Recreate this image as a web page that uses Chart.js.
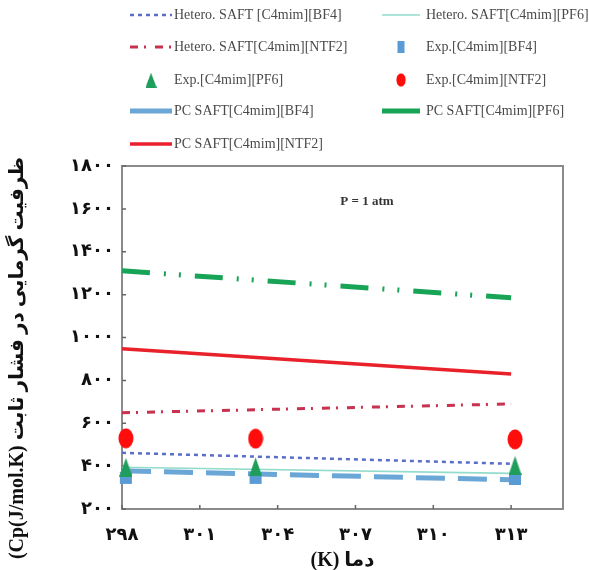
<!DOCTYPE html>
<html>
<head>
<meta charset="utf-8">
<script src="https://cdn.jsdelivr.net/npm/chart.js@4.4.1/dist/chart.umd.min.js"></script>
<style>
html, body { margin: 0; padding: 0; background: #fff; }
</style>
</head>
<body>
<canvas id="cpChart" width="589" height="570"></canvas>
<script>
// temperatures (K)
var tModel = [298, 313];
var tExp = [298.15, 303.15, 313.15];

// model curves, Cp (J/mol.K)
var heteroBF4 = [462, 411];
var heteroPF6 = [395, 366];
var heteroNTF2 = [649, 690];
var pcBF4 = [378, 336];
var pcPF6 = [1311, 1185];
var pcNTF2 = [947, 830];

// experimental points
var expBF4 = [345, 345, 340];
var expPF6 = [395, 397, 403];
var expNTF2 = [530, 528, 525];

var xTicks = [298, 301, 304, 307, 310, 313];
var yTicks = [200, 400, 600, 800, 1000, 1200, 1400, 1600, 1800];

var serif = "'Liberation Serif', 'DejaVu Sans', serif";

function pts(xs, ys) {
  return xs.map(function (x, i) { return { x: x, y: ys[i] }; });
}
// persian digits for the tick labels
function fa(v) {
  return String(v).replace(/\d/g, function (d) { return '۰۱۲۳۴۵۶۷۸۹'[d]; });
}

// red oval marker
var oval = document.createElement('canvas');
oval.width = 16; oval.height = 21;
var oc = oval.getContext('2d');
oc.fillStyle = '#ff0c0c';
oc.beginPath();
oc.ellipse(8, 10.5, 7.5, 10, 0, 0, 2 * Math.PI);
oc.fill();

// tall green triangle marker
var tri = document.createElement('canvas');
tri.width = 13; tri.height = 19;
var tc = tri.getContext('2d');
tc.fillStyle = '#1e9e5a';
tc.beginPath();
tc.moveTo(6.5, 0);
tc.lineTo(13, 19);
tc.lineTo(0, 19);
tc.closePath();
tc.fill();

var datasets = [
  { label: 'Hetero. SAFT [C4mim][BF4]', data: pts(tModel, heteroBF4), showLine: true,
    borderColor: '#5a6ec8', borderWidth: 2.5, borderDash: [4, 4], pointRadius: 0, order: 4 },
  { label: 'Hetero. SAFT[C4mim][PF6]', data: pts(tModel, heteroPF6), showLine: true,
    borderColor: '#92dccb', borderWidth: 1.6, pointRadius: 0, order: 5 },
  { label: 'Hetero. SAFT[C4mim][NTF2]', data: pts(tModel, heteroNTF2), showLine: true,
    borderColor: '#c8324e', borderWidth: 3, borderDash: [8, 6, 2, 9], pointRadius: 0, order: 6 },
  { label: 'Exp.[C4mim][BF4]', data: pts(tExp, expBF4), showLine: false,
    pointStyle: 'rect', pointRadius: 8.5, backgroundColor: '#5b9bd5', borderWidth: 0, order: 3 },
  { label: 'Exp.[C4mim][PF6]', data: pts(tExp, expPF6), showLine: false,
    pointStyle: tri, backgroundColor: '#1e9e5a', order: 2 },
  { label: 'Exp.[C4mim][NTF2]', data: pts(tExp, expNTF2), showLine: false,
    pointStyle: oval, backgroundColor: '#ff0c0c', order: 1 },
  { label: 'PC SAFT[C4mim][BF4]', data: pts(tModel, pcBF4), showLine: true,
    borderColor: '#6aa6d6', borderWidth: 5, borderDash: [29, 13], pointRadius: 0, order: 7 },
  { label: 'PC SAFT[C4mim][PF6]', data: pts(tModel, pcPF6), showLine: true,
    borderColor: '#17a457', borderWidth: 5, borderDash: [28, 14, 2, 13, 2, 14], pointRadius: 0, order: 8 },
  { label: 'PC SAFT[C4mim][NTF2]', data: pts(tModel, pcNTF2), showLine: true,
    borderColor: '#e8212b', borderWidth: 3.5, pointRadius: 0, order: 9 }
];
datasets.forEach(function (d) { d.clip = false; });

// frame, inner ticks, note, y title and the two column legend
var decor = {
  id: 'decor',
  beforeDatasetsDraw: function (chart) {
    var ctx = chart.ctx, a = chart.chartArea;
    var xs = chart.scales.x, ys = chart.scales.y;
    ctx.save();
    ctx.strokeStyle = '#8a8a8a';
    ctx.lineWidth = 2;
    ctx.strokeRect(a.left, a.top, a.right - a.left, a.bottom - a.top);
    ctx.strokeStyle = '#666';
    ctx.lineWidth = 1.5;
    ctx.beginPath();
    xTicks.forEach(function (v) {
      var px = xs.getPixelForValue(v);
      ctx.moveTo(px, a.bottom); ctx.lineTo(px, a.bottom - 4);
    });
    yTicks.forEach(function (v) {
      var py = ys.getPixelForValue(v);
      ctx.moveTo(a.left, py); ctx.lineTo(a.left + 4, py);
    });
    ctx.stroke();
    ctx.fillStyle = '#333';
    ctx.font = 'bold 13px ' + serif;
    ctx.textAlign = 'center';
    ctx.textBaseline = 'middle';
    ctx.fillText('P = 1 atm', 367, 202);

    // y axis title, rotated
    ctx.translate(18, 358);
    ctx.rotate(-Math.PI / 2);
    ctx.fillStyle = '#111';
    ctx.font = 'bold 20px ' + serif;
    ctx.fillText('(Cp(J/mol.K) ظرفیت گرمایی در فشار ثابت', 0, 0);
    ctx.restore();
  },
  afterDraw: function (chart) {
    var ctx = chart.ctx;
    var colX = [130, 382], len = [42, 38], textX = [174, 426];
    var rowY = [15, 47, 80, 111, 144];
    chart.data.datasets.forEach(function (ds, i) {
      var c = i % 2, y = rowY[Math.floor(i / 2)], x0 = colX[c];
      var cx = x0 + len[c] / 2;
      ctx.save();
      if (ds.showLine) {
        ctx.strokeStyle = ds.borderColor;
        ctx.lineWidth = ds.borderWidth;
        ctx.setLineDash(ds.borderWidth >= 5 ? [] : (ds.borderDash || []));
        ctx.beginPath();
        ctx.moveTo(x0, y);
        ctx.lineTo(x0 + len[c], y);
        ctx.stroke();
      } else if (ds.pointStyle === 'rect') {
        ctx.fillStyle = ds.backgroundColor;
        ctx.fillRect(cx - 3.5, y - 6, 7, 12);
      } else if (ds.pointStyle === tri) {
        ctx.drawImage(tri, cx - 5.5, y - 7.5, 11, 15);
      } else {
        ctx.drawImage(ds.pointStyle, cx - 5, y - 7, 10, 14);
      }
      ctx.fillStyle = '#4a4a4a';
      ctx.font = '14px ' + serif;
      ctx.textBaseline = 'middle';
      ctx.fillText(ds.label, textX[c], y);
      ctx.restore();
    });
  }
};

new Chart(document.getElementById('cpChart').getContext('2d'), {
  type: 'scatter',
  data: { datasets: datasets },
  options: {
    responsive: false,
    animation: false,
    devicePixelRatio: 1,
    layout: { padding: { left: 0, right: 26, top: 166, bottom: 0 } },
    plugins: { legend: { display: false }, tooltip: { enabled: false } },
    scales: {
      x: {
        type: 'linear', min: 298, max: 315,
        afterBuildTicks: function (s) { s.ticks = xTicks.map(function (v) { return { value: v }; }); },
        afterFit: function (s) { s.height = 61; },
        grid: { display: false },
        border: { display: false },
        ticks: {
          callback: function (v) { return fa(v); },
          font: { family: serif, size: 18, weight: 'bold' },
          color: '#111', padding: 8, maxRotation: 0, autoSkip: false
        },
        title: {
          display: true, text: '(K) دما', color: '#111',
          font: { family: serif, size: 20, weight: 'bold', lineHeight: 0.9 },
          padding: 0
        }
      },
      y: {
        min: 200, max: 1800,
        afterBuildTicks: function (s) { s.ticks = yTicks.map(function (v) { return { value: v }; }); },
        afterFit: function (s) { s.width = 122; },
        grid: { display: false },
        border: { display: false },
        ticks: {
          callback: function (v) { return fa(v); },
          font: { family: serif, size: 18, weight: 'bold' },
          color: '#111', padding: 0, autoSkip: false
        }
      }
    }
  },
  plugins: [decor]
});
</script>
</body>
</html>
